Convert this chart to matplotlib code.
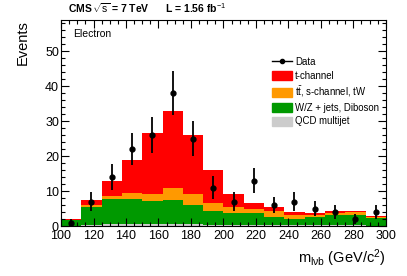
import matplotlib
matplotlib.use("Agg")
import matplotlib.pyplot as plt
from matplotlib.lines import Line2D
from matplotlib.patches import Patch
from matplotlib.ticker import MultipleLocator
import numpy as np

# binning of m_lvb (GeV/c^2)
edges = np.linspace(100, 300, 17)
centers = 0.5 * (edges[:-1] + edges[1:])

# stacked components
qcd = [0.1, 0.2, 0.6, 0.6, 0.6, 0.6, 0.5, 0.3, 0.3, 0.2, 0.2, 0.2, 0.2, 0.2, 0.2, 0.1]
wz = [1.5, 5.3, 7.1, 7.0, 6.5, 6.9, 5.5, 4.0, 3.5, 3.4, 2.5, 1.7, 2.3, 2.9, 3.0, 2.2]
ttbar = [0.2, 0.5, 0.8, 1.7, 2.0, 3.5, 3.2, 2.3, 1.5, 1.3, 1.6, 1.3, 0.7, 0.6, 0.9, 0.4]
tchan = [0.2, 1.3, 4.5, 9.7, 17.4, 22.0, 16.8, 9.4, 3.9, 1.8, 1.1, 0.8, 0.6, 0.5, 0.3, 0.3]

data = [1, 7, 14, 22, 26, 38, 25, 11, 7, 13, 6, 7, 5, 4, 2, 4]
data_err = [1.0, 2.6, 3.7, 4.7, 5.1, 6.2, 5.0, 3.3, 2.6, 3.6, 2.4, 2.6, 2.2, 2.0, 1.4, 2.0]

plt.rcParams['font.family'] = ['Liberation Sans', 'DejaVu Sans']
plt.rcParams['mathtext.fontset'] = 'custom'
plt.rcParams['mathtext.rm'] = 'Liberation Sans'
plt.rcParams['mathtext.it'] = 'Liberation Sans'
plt.rcParams['mathtext.bf'] = 'Liberation Sans:bold'

fig = plt.figure(figsize=(4.07, 2.76), dpi=100)
ax = fig.add_axes([0.150, 0.181, 0.798, 0.747])

colors = ['#cccccc', '#009900', '#ff9900', '#ff0000']
comps = [qcd, wz, ttbar, tchan]
bottom = np.zeros(len(centers))
for vals, c in zip(comps, colors):
    top = bottom + np.array(vals)
    ax.stairs(top, edges, baseline=bottom, fill=True, color=c, lw=0)
    bottom = top

ax.errorbar(centers, data, yerr=data_err, fmt='o', color='black',
            ms=3.5, elinewidth=1.3, capsize=0)

ax.set_xlim(100, 300)
ax.set_ylim(0, 58.9)
ax.xaxis.set_major_locator(MultipleLocator(20))
ax.xaxis.set_minor_locator(MultipleLocator(5))
ax.yaxis.set_major_locator(MultipleLocator(10))
ax.yaxis.set_minor_locator(MultipleLocator(2))
ax.tick_params(which='both', direction='in', top=True, right=True,
               labelsize=9, width=0.8)
ax.tick_params(axis='y', pad=1.5)
ax.tick_params(axis='x', pad=3)
ax.tick_params(which='major', length=6)
ax.tick_params(which='minor', length=3)
for s in ax.spines.values():
    s.set_linewidth(0.8)

ax.set_ylabel("Events", fontsize=10.5, loc='top', labelpad=11)
ax.set_xlabel(r"m$_{\rm l\nu b}$ (GeV/c$^{2}$)", fontsize=10.5, loc='right', labelpad=4)

ax.text(0.037, 0.955, "Electron", transform=ax.transAxes, fontsize=7.5,
        va='top', ha='left')
fig.text(0.167, 0.944, r"CMS$\,\sqrt{s}$ = 7 TeV      L = 1.56 fb$^{-1}$",
         fontsize=7.5, fontweight='bold', ha='left', va='bottom')

handles = [Line2D([0], [0], color='black', marker='o', ms=3, lw=1),
           Patch(color='#ff0000'), Patch(color='#ff9900'),
           Patch(color='#009900'), Patch(color='#cccccc')]
labels = ["Data", "t-channel", r"t$\bar{\rm t}$, s-channel, tW",
          "W/Z + jets, Diboson", "QCD multijet"]
ax.legend(handles, labels, loc='upper left', bbox_to_anchor=(0.649, 0.82),
          frameon=False, fontsize=6.9, handlelength=2.1, handleheight=1.05,
          labelspacing=0.38, handletextpad=0.35, borderpad=0, borderaxespad=0)

fig.savefig("out.png", dpi=100)
